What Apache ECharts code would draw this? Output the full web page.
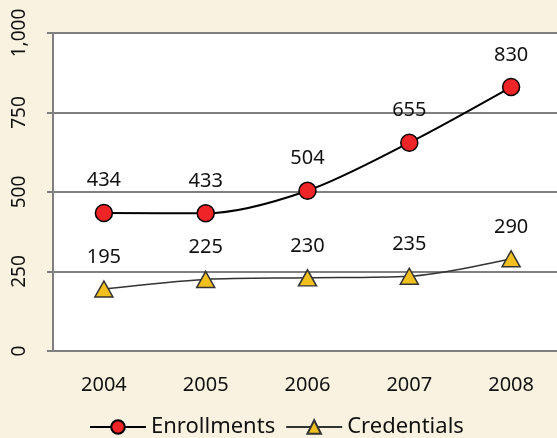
<!DOCTYPE html>
<html><head><meta charset="utf-8">
<script src="https://cdn.jsdelivr.net/npm/echarts@6/dist/echarts.min.js"></script>
<style>html,body{margin:0;padding:0;background:#FAF2E0;overflow:hidden;width:557px;height:438px;}#c{width:570px;height:438px;}</style>
</head><body><div id="c"></div>
<script>
const categories = ['2004','2005','2006','2007','2008'];
const enrollments = [434, 433, 504, 655, 830];
const credentials = [195, 225, 230, 235, 290];
const yTicks = [0, 250, 500, 750, 1000];

const font = '"Noto Sans", sans-serif';
const chart = echarts.init(document.getElementById('c'));
chart.setOption({
  backgroundColor: '#FAF2E0',
  animation: false,
  grid: {left: 53, top: 33, right: 8, bottom: 87, show: true, backgroundColor: '#fff', borderWidth: 0},
  legend: {
    bottom: -5, left: 84, itemWidth: 56, itemHeight: 17, itemGap: 10,
    textStyle: {fontFamily: font, fontSize: 22, color: '#111'},
    data: ['Enrollments', 'Credentials']
  },
  xAxis: {
    type: 'category', data: categories, boundaryGap: true,
    axisLine: {show: false},
    axisTick: {show: false},
    axisLabel: {fontFamily: font, fontSize: 20, color: '#111', margin: 24}
  },
  yAxis: {
    type: 'value', min: yTicks[0], max: yTicks[yTicks.length-1], interval: 250,
    axisLine: {show: true, lineStyle: {color: '#7f7f7f', width: 2}},
    axisTick: {show: true, length: 6, lineStyle: {color: '#7f7f7f', width: 2}},
    splitLine: {show: true, lineStyle: {color: '#7f7f7f', width: 2}},
    axisLabel: {fontFamily: font, fontSize: 19, color: '#111', rotate: 90, margin: 24,
      formatter: v => v.toLocaleString('en-US')}
  },
  series: [
    {
      name: 'Enrollments', type: 'line', data: enrollments, smooth: 0.3,
      symbol: 'circle', symbolSize: 17,
      lineStyle: {color: '#000', width: 2},
      itemStyle: {color: '#EE2426', borderColor: '#000', borderWidth: 1.5},
      label: {show: true, position: 'top', distance: 13, fontFamily: font, fontSize: 20, color: '#111'}
    },
    {
      name: 'Credentials', type: 'line', data: credentials, smooth: 0.3,
      symbol: 'triangle', symbolSize: [18, 16],
      lineStyle: {color: '#333', width: 1.5},
      itemStyle: {color: '#F2C01E', borderColor: '#333', borderWidth: 1.5},
      label: {show: true, position: 'top', distance: 13, fontFamily: font, fontSize: 20, color: '#111'}
    }
  ]
});
</script></body></html>
